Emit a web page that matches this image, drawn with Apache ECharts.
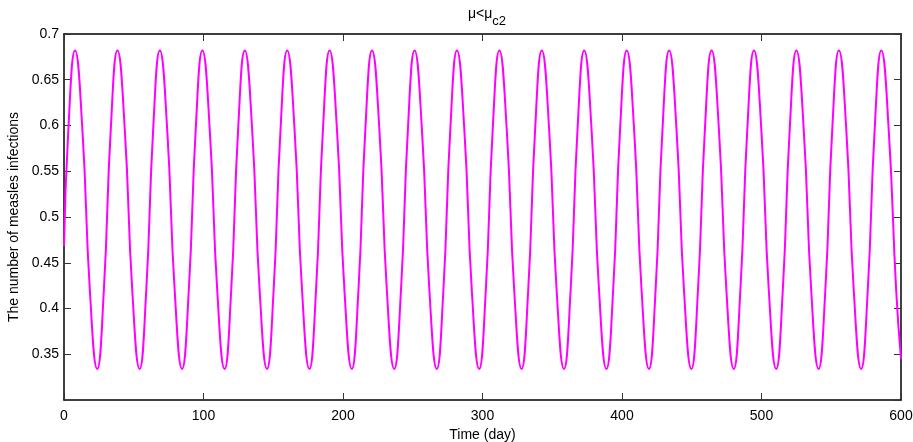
<!DOCTYPE html>
<html>
<head>
<meta charset="utf-8">
<script src="https://cdn.jsdelivr.net/npm/echarts@6/dist/echarts.min.js"></script>
<style>
html,body{margin:0;padding:0;background:#fff;}
#chart{width:913px;height:442px;}
</style>
</head>
<body>
<div id="chart"></div>
<script>
// Time (day) of each read-off point
const days = [
  0, 3.1, 7.9, 13.2, 18.5, 23.8,
  28.6, 33.5, 38.3, 43.6, 48.9, 54.2,
  59.0, 63.9, 68.7, 74.0, 79.3, 84.6,
  89.5, 94.4, 99.2, 104.5, 109.8, 115.1,
  119.9, 124.8, 129.6, 134.9, 140.2, 145.5,
  150.3, 155.2, 160.0, 165.3, 170.6, 175.9,
  180.7, 185.6, 190.4, 195.7, 201.0, 206.3,
  211.1, 216.0, 220.8, 226.1, 231.4, 236.7,
  241.6, 246.5, 251.3, 256.6, 261.9, 267.2,
  272.0, 276.9, 281.7, 287.0, 292.3, 297.6,
  302.4, 307.3, 312.1, 317.4, 322.7, 328.0,
  332.8, 337.7, 342.5, 347.8, 353.1, 358.4,
  363.2, 368.1, 372.9, 378.2, 383.5, 388.8,
  393.7, 398.6, 403.4, 408.7, 414.0, 419.3,
  424.1, 429.0, 433.8, 439.1, 444.4, 449.7,
  454.5, 459.4, 464.2, 469.5, 474.8, 480.1,
  484.9, 489.8, 494.6, 499.9, 505.2, 510.5,
  515.3, 520.2, 525.0, 530.3, 535.6, 540.9,
  545.8, 550.7, 555.5, 560.8, 566.1, 571.4,
  576.2, 581.1, 585.9, 591.2, 596.5, 600
];
// Measles infections at those days
const infections = [
  0.468, 0.595, 0.682, 0.595, 0.421, 0.334,
  0.421, 0.595, 0.682, 0.595, 0.421, 0.334,
  0.421, 0.595, 0.682, 0.595, 0.421, 0.334,
  0.421, 0.595, 0.682, 0.595, 0.421, 0.334,
  0.421, 0.595, 0.682, 0.595, 0.421, 0.334,
  0.421, 0.595, 0.682, 0.595, 0.421, 0.334,
  0.421, 0.595, 0.682, 0.595, 0.421, 0.334,
  0.421, 0.595, 0.682, 0.595, 0.421, 0.334,
  0.421, 0.595, 0.682, 0.595, 0.421, 0.334,
  0.421, 0.595, 0.682, 0.595, 0.421, 0.334,
  0.421, 0.595, 0.682, 0.595, 0.421, 0.334,
  0.421, 0.595, 0.682, 0.595, 0.421, 0.334,
  0.421, 0.595, 0.682, 0.595, 0.421, 0.334,
  0.421, 0.595, 0.682, 0.595, 0.421, 0.334,
  0.421, 0.595, 0.682, 0.595, 0.421, 0.334,
  0.421, 0.595, 0.682, 0.595, 0.421, 0.334,
  0.421, 0.595, 0.682, 0.595, 0.421, 0.334,
  0.421, 0.595, 0.682, 0.595, 0.421, 0.334,
  0.421, 0.595, 0.682, 0.595, 0.421, 0.334,
  0.421, 0.595, 0.682, 0.595, 0.421, 0.345
];
const xTicks = [0, 100, 200, 300, 400, 500, 600];
const yTicks = [0.3, 0.35, 0.4, 0.45, 0.5, 0.55, 0.6, 0.65, 0.7];

const FONT = '"Liberation Sans", Arial, sans-serif';
const chart = echarts.init(document.getElementById('chart'), null, {renderer: 'canvas'});
const axisLineStyle = {color: '#000', width: 1.5};
const tickStyle = {color: '#333', width: 1};
const data = days.map((d, i) => [d, infections[i]]);

function frameAxis(extra) {
  return Object.assign({
    type: 'value',
    axisLine: {show: true, onZero: false, lineStyle: axisLineStyle},
    axisTick: {show: true, inside: true, length: 7, lineStyle: tickStyle},
    splitLine: {show: false}
  }, extra);
}

chart.setOption({
  animation: false,
  backgroundColor: '#fff',
  title: {
    text: '{a|μ<μ}{b|c2}',
    left: 482, top: 2, textAlign: 'center',
    textStyle: {
      fontWeight: 'normal',
      rich: {
        a: {fontFamily: FONT, fontSize: 14, fontWeight: 'normal', color: '#000', lineHeight: 16, verticalAlign: 'top'},
        b: {fontFamily: FONT, fontSize: 13, fontWeight: 'normal', color: '#000', lineHeight: 16, padding: [8, 0, 0, 0], verticalAlign: 'top'}
      }
    }
  },
  grid: {left: 64, right: 12, top: 34, bottom: 42, outerBoundsMode: 'none', containLabel: false},
  xAxis: [
    frameAxis({
      position: 'bottom', min: xTicks[0], max: xTicks[xTicks.length - 1], interval: 100,
      name: 'Time (day)', nameLocation: 'middle', nameGap: 25,
      nameTextStyle: {fontFamily: FONT, fontSize: 14, color: '#000'},
      axisLabel: {fontFamily: FONT, fontSize: 14, color: '#000', margin: 9}
    }),
    frameAxis({
      position: 'top', min: xTicks[0], max: xTicks[xTicks.length - 1], interval: 100,
      axisLabel: {show: false}
    })
  ],
  yAxis: [
    frameAxis({
      position: 'left', min: yTicks[0], max: yTicks[yTicks.length - 1], interval: 0.05,
      name: 'The number of measles infections', nameLocation: 'middle', nameGap: 40,
      nameTextStyle: {fontFamily: FONT, fontSize: 14, color: '#000'},
      axisLabel: {fontFamily: FONT, fontSize: 14, color: '#000', margin: 5, showMinLabel: false,
        formatter: v => String(+v.toFixed(2))}
    }),
    frameAxis({
      position: 'right', min: yTicks[0], max: yTicks[yTicks.length - 1], interval: 0.05,
      axisLabel: {show: false}
    })
  ],
  series: [{
    type: 'line', xAxisIndex: 0, yAxisIndex: 0,
    data: data, smooth: 0.5, showSymbol: false,
    lineStyle: {color: '#ff00ff', width: 2},
    clip: true
  }]
});
</script>
</body>
</html>
